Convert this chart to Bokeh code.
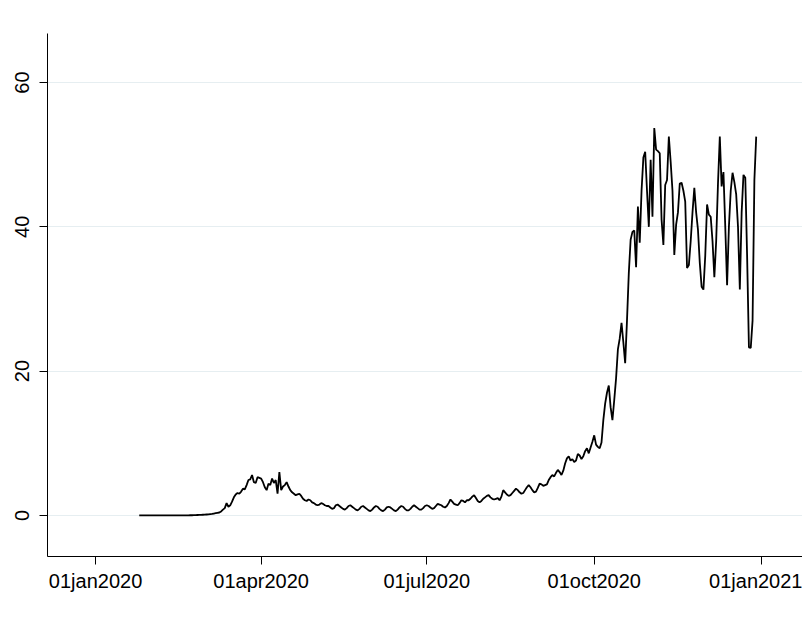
import pandas as pd
from bokeh.plotting import figure
from bokeh.models import FixedTicker, Range1d
from bokeh.embed import file_html
from bokeh.resources import INLINE

# ---- data: daily values starting 25 Jan 2020 ----
start_date = "2020-01-25"
cases = [
    0, 0, 0, 0, 0, 0, 0,
    0, 0, 0, 0, 0, 0, 0,
    0, 0, 0, 0, 0, 0, 0,
    0, 0, 0, 0, 0, 0.01, 0.01,
    0.02, 0.02, 0.03, 0.04, 0.05, 0.06, 0.08,
    0.09, 0.1, 0.12, 0.14, 0.17, 0.2, 0.25,
    0.3, 0.35, 0.4, 0.55, 0.8, 1.0, 1.7,
    1.2, 1.4, 1.9, 2.5, 2.9, 3.1, 3.0,
    3.3, 3.7, 3.6, 4.2, 4.9, 5.0, 5.6,
    4.6, 4.5, 5.3, 5.2, 5.1, 4.6, 3.9,
    3.5, 4.4, 4.2, 5.1, 4.5, 4.9, 3.0,
    6.0, 3.5, 4.0, 4.2, 4.6, 4.0, 3.5,
    3.2, 3.0, 2.8, 2.9, 3.0, 2.7, 2.3,
    2.1, 2.0, 2.2, 2.1, 1.8, 1.7, 1.5,
    1.4, 1.5, 1.7, 1.6, 1.4, 1.3, 1.3,
    1.1, 0.9, 1.0, 1.4, 1.5, 1.3, 1.1,
    0.9, 0.8, 1.0, 1.3, 1.4, 1.2, 1.0,
    0.8, 0.7, 0.9, 1.2, 1.3, 1.1, 0.9,
    0.7, 0.6, 0.8, 1.1, 1.3, 1.2, 0.9,
    0.7, 0.6, 0.8, 1.1, 1.2, 1.1, 0.9,
    0.7, 0.6, 0.8, 1.1, 1.3, 1.2, 0.9,
    0.7, 0.7, 0.9, 1.2, 1.4, 1.2, 1.0,
    0.8, 0.8, 1.0, 1.3, 1.4, 1.3, 1.1,
    0.9, 1.0, 1.3, 1.6, 1.5, 1.4, 1.2,
    1.1, 1.3, 1.7, 2.2, 1.9, 1.6, 1.5,
    1.4, 1.7, 2.1, 2.0, 1.8, 2.1, 2.1,
    2.3, 2.6, 2.8, 2.4, 2.0, 1.8, 2.0,
    2.3, 2.5, 2.7, 2.8, 2.5, 2.3, 2.2,
    2.3, 2.4, 2.1, 2.6, 3.5, 3.2, 2.9,
    2.7, 2.8, 3.1, 3.4, 3.7, 3.5, 3.2,
    3.0, 3.1, 3.5, 3.9, 4.2, 3.9, 3.5,
    3.2, 3.3, 3.8, 4.4, 4.3, 4.1, 4.2,
    4.3, 4.9, 5.3, 5.6, 5.4, 5.9, 6.3,
    6.0, 5.6, 6.2, 7.2, 7.9, 8.2, 7.6,
    7.8, 7.4, 7.6, 8.5, 8.3, 7.8, 8.2,
    8.9, 9.3, 8.6, 9.4, 10.2, 11.1, 9.8,
    9.5, 9.3, 10.1, 13.2, 15.5, 17.0, 18.0,
    15.0, 13.2, 16.0, 19.0, 23.0, 24.5, 26.7,
    24.0, 21.1, 27.0, 33.6, 38.2, 39.3, 39.5,
    34.4, 42.8, 37.8, 45.0, 49.6, 50.4, 45.0,
    40.0, 49.3, 41.4, 53.7, 50.7, 50.5, 50.2,
    41.0, 37.5, 45.8, 46.5, 52.5, 49.0, 45.0,
    36.1, 40.3, 42.0, 46.0, 46.1, 45.0, 43.5,
    34.3, 34.7, 38.0, 42.0, 45.4, 42.0, 39.6,
    35.0, 31.7, 31.3, 36.0, 43.1, 41.7, 41.4,
    38.0, 33.0, 38.0, 46.0, 52.5, 45.6, 47.6,
    40.0, 31.9, 40.0, 45.0, 47.5, 46.2, 44.5,
    40.0, 31.3, 42.0, 47.2, 46.8, 36.0, 23.3,
    23.2, 27.0, 46.5, 52.5,
]

tick_dates = ["2020-01-01", "2020-04-01", "2020-07-01", "2020-10-01", "2021-01-01"]
tick_labels = ["01jan2020", "01apr2020", "01jul2020", "01oct2020", "01jan2021"]
y_ticks = [0, 20, 40, 60]

dates = pd.date_range(start=start_date, periods=len(cases), freq="D")

DAY_MS = 86400000.0
jan1 = pd.Timestamp("2020-01-01").value / 1e6
x_start = jan1 - 26.4 * DAY_MS
x_end = x_start + (755 / 1.82) * DAY_MS

p = figure(width=802, height=610, x_axis_type="datetime",
           output_backend="svg", toolbar_location=None,
           x_range=Range1d(x_start, x_end), y_range=Range1d(-5.7, 66.8),
           min_border_left=47, min_border_right=0, min_border_top=33,
           min_border_bottom=54)

p.line(dates, cases, line_color="black", line_width=1.8)

tick_ms = [int(pd.Timestamp(d).value // 10**6) for d in tick_dates]
p.xaxis.ticker = FixedTicker(ticks=tick_ms)
p.xaxis.major_label_overrides = {t: l for t, l in zip(tick_ms, tick_labels)}
p.yaxis.ticker = FixedTicker(ticks=y_ticks)
p.yaxis.major_label_orientation = "vertical"

for ax in (p.xaxis, p.yaxis):
    ax.axis_line_color = "black"
    ax.axis_line_width = 1
    ax.major_tick_line_color = "black"
    ax.major_tick_out = 8
    ax.major_tick_in = 0
    ax.minor_tick_line_color = None
    ax.major_label_text_font = "Liberation Sans"
    ax.major_label_text_font_size = "20px"
    ax.major_label_text_color = "black"
p.yaxis.major_label_standoff = 10
p.xaxis.major_label_standoff = 5

p.xgrid.grid_line_color = None
p.ygrid.grid_line_color = "#e6eef1"
p.ygrid.grid_line_width = 1.2
p.outline_line_color = None
p.background_fill_color = "white"
p.border_fill_color = "white"

open("out.html", "w").write(file_html(p, INLINE))
